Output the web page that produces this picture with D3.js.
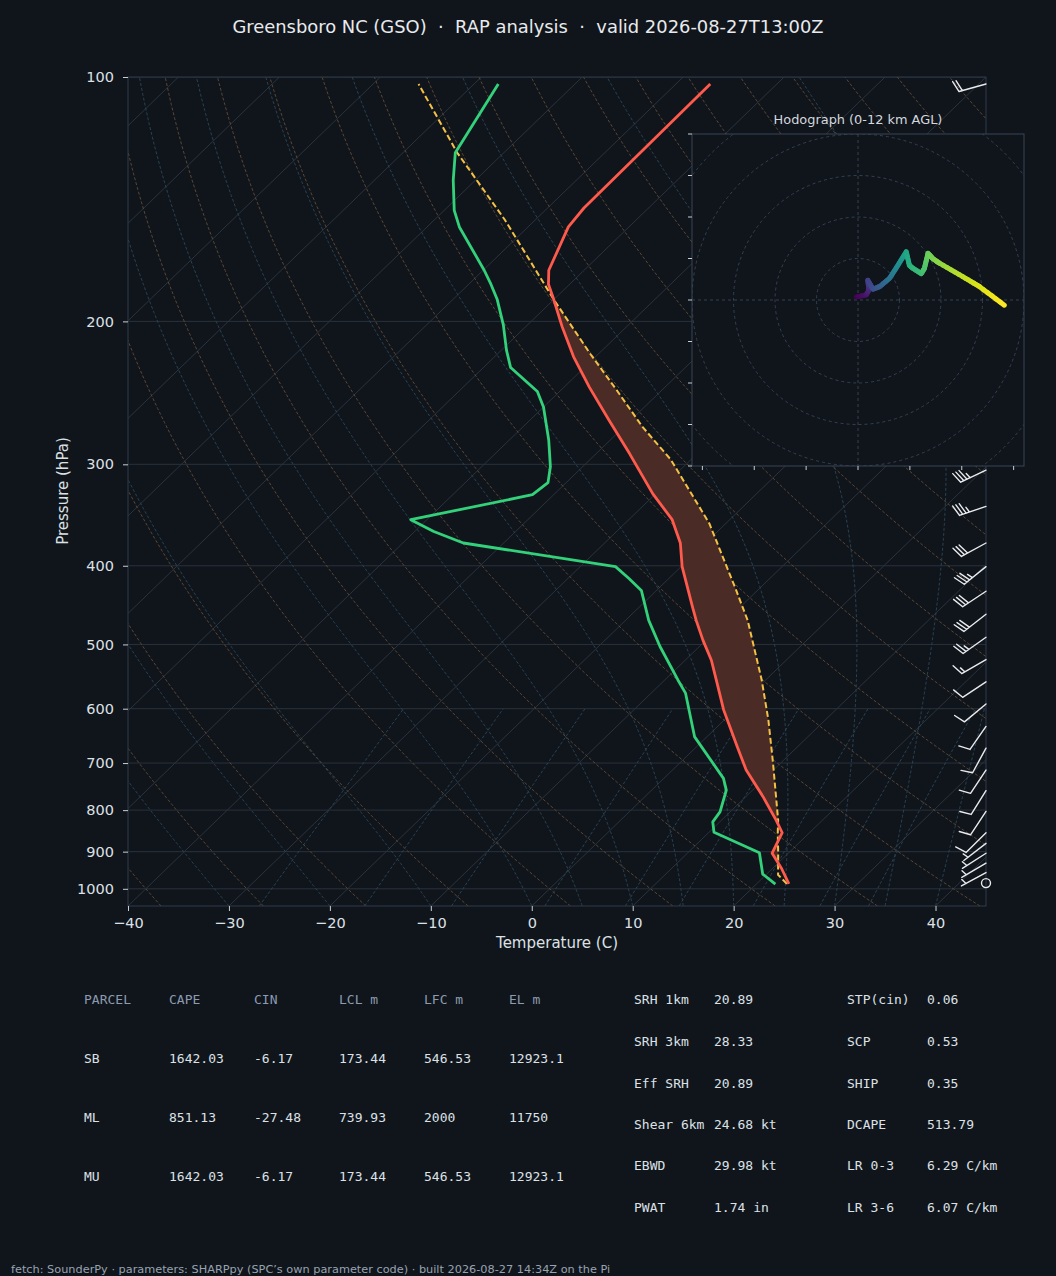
<!DOCTYPE html>
<html>
<head>
<meta charset="utf-8">
<script src="https://cdn.jsdelivr.net/npm/d3@7"></script>
<style>
  html, body { margin: 0; padding: 0; background: #10151c; }
  svg { display: block; }
  text { white-space: pre; }
</style>
</head>
<body>
<svg id="skewt" width="1056" height="1276"></svg>
<script>
// ---- sounding (hPa, degC) ----
var tempP = [986, 944, 904, 853, 823, 770, 714, 668, 602, 553, 523, 494, 467, 449, 401, 375, 351, 326, 291, 265, 241, 221, 203, 188, 180, 173, 153, 145, 102];
var tempT = [23.2, 20.9, 18.4, 17.3, 15.4, 11.7, 7.3, 4.0, -1.1, -4.9, -7.4, -10.3, -13.0, -14.8, -19.9, -22.5, -25.7, -30.3, -36.7, -42.1, -47.5, -52.2, -56.4, -60.0, -62.1, -63.5, -66.0, -66.4, -66.6];

var dewP = [987, 959, 903, 852, 827, 804, 756, 731, 650, 574, 553, 503, 467, 429, 415, 401, 375, 363, 351, 327, 316, 302, 280, 255, 244, 228, 217, 202, 188, 180, 173, 153, 146, 134, 124, 102];
var dewT = [21.9, 19.6, 17.1, 10.5, 9.3, 9.0, 7.4, 5.9, -1.2, -6.6, -8.7, -13.9, -17.7, -21.5, -23.9, -26.5, -44.0, -48.1, -51.6, -42.1, -41.8, -43.2, -46.1, -50.0, -52.2, -57.3, -59.5, -62.4, -65.6, -67.8, -69.9, -76.8, -79.0, -82.2, -84.8, -87.6];

var parcelP = [986, 961, 904, 854, 823, 701, 620, 553, 467, 429, 355, 323, 296, 270, 243, 219, 188, 150, 124, 102];
var parcelT = [23.0, 21.2, 19.0, 16.9, 15.6, 9.3, 4.4, -0.4, -7.9, -12.1, -21.6, -27.0, -32.0, -38.1, -44.5, -50.9, -60.0, -73.0, -84.6, -95.5];

// wind barbs (kt)
var barbP = [102, 305, 338, 375, 401, 430, 459, 490, 522, 556, 592, 631, 671, 714, 757, 803, 853, 879, 904, 930, 955, 984];
var barbU = [19.3, 31.6, 33.1, 26.3, 27.2, 25.0, 23.7, 20.4, 13.0, 8.3, 7.7, 5.7, 4.8, 5.5, 5.3, 5.5, 7.1, 4.0, 4.2, 4.3, 4.4, 0];
var barbV = [5.4, 15.1, 11.3, 14.4, 22.0, 16.6, 18.4, 14.4, 7.5, 5.5, 6.4, 8.2, 8.8, 8.3, 8.5, 8.3, 7.0, 3.1, 2.7, 2.5, 2.4, 0];

// hodograph (kt) and height (km AGL)
var hodoU = [-0.3, 1.6, 2.1, 1.9, 2.9, 4.2, 6.1, 7.7, 9.3, 9.9, 10.6, 12.2, 12.8, 13.5, 14.4, 15.7, 20.2, 23.4, 28.2];
var hodoV = [0.6, 1.0, 1.9, 3.8, 2.1, 2.6, 4.2, 6.7, 9.3, 6.7, 6.1, 5.1, 6.1, 9.0, 8.0, 7.1, 4.5, 2.6, -1.0];
var hodoZ = [0.0, 0.6, 1.2, 2.2, 2.8, 3.4, 4.4, 5.6, 7.0, 7.5, 7.8, 8.2, 8.6, 9.2, 9.5, 9.9, 10.8, 11.3, 12.0];

var pTicks = [100, 200, 300, 400, 500, 600, 700, 800, 900, 1000];
var xTicks = [-40, -30, -20, -10, 0, 10, 20, 30, 40];

// parcel table
var parcelNames = ['SB', 'ML', 'MU'];
var parcelCape = [1642.03, 851.13, 1642.03];
var parcelCin = [-6.17, -27.48, -6.17];
var parcelLcl = [173.44, 739.93, 173.44];
var parcelLfc = [546.53, 2000, 546.53];
var parcelEl = [12923.1, 11750, 12923.1];

var kinLabels = ['SRH 1km', 'SRH 3km', 'Eff SRH', 'Shear 6km', 'EBWD', 'PWAT'];
var kinValues = ['20.89', '28.33', '20.89', '24.68 kt', '29.98 kt', '1.74 in'];
var idxLabels = ['STP(cin)', 'SCP', 'SHIP', 'DCAPE', 'LR 0-3', 'LR 3-6'];
var idxValues = ['0.06', '0.53', '0.35', '513.79', '6.29 C/km', '6.07 C/km'];

var svg = d3.select('#skewt'),
    width = +svg.attr('width'),
    height = +svg.attr('height');

var bg = '#10151c',
    fg = '#dde1e6',
    sans = 'DejaVu Sans, sans-serif',
    mono = 'DejaVu Sans Mono, monospace';

svg.append('rect').attr('width', width).attr('height', height).attr('fill', bg);

var plot = {left: 128, right: 986, top: 77, bottom: 906};

var y = d3.scaleLog().domain([1050, 100]).range([plot.bottom, plot.top]);
var x = d3.scaleLinear().domain([-40, 45]).range([plot.left, plot.right]);
// 45 degree skew in axes units
var skew = (plot.right - plot.left) / (plot.bottom - plot.top);
function sx(t, p) { return x(t) + (plot.bottom - y(p)) * skew; }

var line = d3.line().x(d => sx(d[1], d[0])).y(d => y(d[0]));

svg.append('defs').append('clipPath').attr('id', 'plotclip')
  .append('rect')
  .attr('x', plot.left).attr('y', plot.top)
  .attr('width', plot.right - plot.left).attr('height', plot.bottom - plot.top);

var g = svg.append('g').attr('clip-path', 'url(#plotclip)');

// horizontal grid
g.selectAll('.hgrid').data(pTicks).enter().append('line')
  .attr('x1', plot.left).attr('x2', plot.right)
  .attr('y1', d => y(d)).attr('y2', d => y(d))
  .attr('stroke', '#28313c').attr('stroke-width', 1);

// isotherms
g.selectAll('.iso').data(d3.range(-160, 50, 10)).enter().append('line')
  .attr('x1', d => sx(d, 1050)).attr('y1', y(1050))
  .attr('x2', d => sx(d, 100)).attr('y2', y(100))
  .attr('stroke', '#2b333d').attr('stroke-width', 1);

// dry adiabats
var logLevels = d3.range(0, 61).map(i => 1050 * Math.pow(100 / 1050, i / 60));
var dry = d3.range(-40, 250, 10).map(t0 =>
  logLevels.map(p => [p, (t0 + 273.15) * Math.pow(p / 1000, 0.28571) - 273.15]));
g.selectAll('.dry').data(dry).enter().append('path')
  .attr('d', line).attr('fill', 'none')
  .attr('stroke', '#624c36').attr('stroke-width', 0.9).attr('stroke-dasharray', '3,2');

// moist adiabats, referenced to the bottom of the plot
function moistGrad(p, tK) {
  var tc = tK - 273.15;
  var es = 6.112 * Math.exp(17.67 * tc / (tc + 243.5));
  var rs = 0.622 * es / (p - es);
  var num = 287.04 * tK + 2.501e6 * rs;
  var den = 1005.7 + 2.501e6 * 2.501e6 * rs * 0.622 / (287.04 * tK * tK);
  return num / den / p;
}
var moistStarts = [-40, -30, -20, -10, 0, 5, 10, 15, 20, 25, 30, 35, 40, 45];
var moist = moistStarts.map(t0 => {
  var pts = [], p = 1050, t = t0 + 273.15, dp = -5;
  pts.push([p, t - 273.15]);
  while (p > 100) {
    var k1 = moistGrad(p, t),
        k2 = moistGrad(p + dp / 2, t + dp / 2 * k1),
        k3 = moistGrad(p + dp / 2, t + dp / 2 * k2),
        k4 = moistGrad(p + dp, t + dp * k3);
    t += dp / 6 * (k1 + 2 * k2 + 2 * k3 + k4);
    p += dp;
    pts.push([p, t - 273.15]);
  }
  return pts;
});
g.selectAll('.moist').data(moist).enter().append('path')
  .attr('d', line).attr('fill', 'none')
  .attr('stroke', '#2b4656').attr('stroke-width', 0.9).attr('stroke-dasharray', '3,2');

// mixing ratio lines
var mixRatios = [0.0004, 0.001, 0.002, 0.004, 0.007, 0.01, 0.016, 0.024, 0.032];
var mixLevels = d3.range(0, 21).map(i => 1050 - i * 22.5);
var mix = mixRatios.map(w => mixLevels.map(p => {
  var e = w * p / (0.622 + w), l = Math.log(e / 6.112);
  return [p, 243.5 * l / (17.67 - l)];
}));
g.selectAll('.mix').data(mix).enter().append('path')
  .attr('d', line).attr('fill', 'none')
  .attr('stroke', '#2b4656').attr('stroke-width', 0.9).attr('stroke-dasharray', '3,2');

// CAPE shading between parcel and environment
function interpAt(ps, ts, p) {
  for (var i = 0; i < ps.length - 1; i++) {
    if (p <= ps[i] && p >= ps[i + 1]) {
      var f = (Math.log(p) - Math.log(ps[i])) / (Math.log(ps[i + 1]) - Math.log(ps[i]));
      return ts[i] + f * (ts[i + 1] - ts[i]);
    }
  }
  return NaN;
}
var capeRows = d3.range(0, 801).map(i => {
  var p = 986 * Math.pow(102 / 986, i / 800);
  return {p: p, te: interpAt(tempP, tempT, p), tp: interpAt(parcelP, parcelT, p)};
});
var capeArea = d3.area()
  .defined(d => d.tp > d.te)
  .x0(d => sx(d.te, d.p)).x1(d => sx(d.tp, d.p))
  .y(d => y(d.p));
g.append('path').datum(capeRows).attr('d', capeArea).attr('fill', '#4a2b25');

// profiles
g.append('path').datum(parcelP.map((p, i) => [p, parcelT[i]]))
  .attr('d', line).attr('fill', 'none')
  .attr('stroke', '#f4c145').attr('stroke-width', 2).attr('stroke-dasharray', '6,3');
g.append('path').datum(tempP.map((p, i) => [p, tempT[i]]))
  .attr('d', line).attr('fill', 'none')
  .attr('stroke', '#ff5a4c').attr('stroke-width', 2.8).attr('stroke-linejoin', 'round');
g.append('path').datum(dewP.map((p, i) => [p, dewT[i]]))
  .attr('d', line).attr('fill', 'none')
  .attr('stroke', '#33d17a').attr('stroke-width', 2.8).attr('stroke-linejoin', 'round');

// spines
svg.append('rect')
  .attr('x', plot.left).attr('y', plot.top)
  .attr('width', plot.right - plot.left).attr('height', plot.bottom - plot.top)
  .attr('fill', 'none').attr('stroke', '#2f3a48').attr('stroke-width', 1);

// wind barbs along the right edge
var bL = 28, bH = 0.4 * bL, bW = 0.25 * bL, bS = 0.125 * bL;
var barbs = svg.append('g').attr('stroke', '#e8eaed').attr('stroke-width', 1.4)
  .attr('fill', 'none').attr('stroke-linecap', 'round');

barbP.forEach((p, i) => {
  var bx = plot.right, by = y(p);
  var u = barbU[i], v = barbV[i];
  var spd = Math.sqrt(u * u + v * v);
  if (spd < 2.5) {
    barbs.append('circle').attr('cx', bx).attr('cy', by).attr('r', 4.5);
    return;
  }
  var hx = -u / spd, hy = v / spd;   // shaft points where the wind comes from
  var px = -hy, py = hx;             // feather side
  var r = Math.round(spd / 5) * 5;
  var n10 = Math.floor(r / 10), half = (r % 10) >= 5;
  var path = d3.path();
  path.moveTo(bx, by);
  path.lineTo(bx + hx * bL, by + hy * bL);
  var off = bL;
  for (var k = 0; k < n10; k++) {
    var ax = bx + hx * off, ay = by + hy * off;
    path.moveTo(ax, ay);
    path.lineTo(ax + px * bH + hx * bW / 2, ay + py * bH + hy * bW / 2);
    off -= bS;
  }
  if (half) {
    if (n10 === 0) off -= 1.5 * bS;
    var hx0 = bx + hx * off, hy0 = by + hy * off;
    path.moveTo(hx0, hy0);
    path.lineTo(hx0 + px * bH / 2 + hx * bW / 4, hy0 + py * bH / 2 + hy * bW / 4);
  }
  barbs.append('path').attr('d', path.toString());
});

// axes
var yAxis = svg.append('g').attr('transform', 'translate(' + plot.left + ',0)')
  .call(d3.axisLeft(y).tickValues(pTicks).tickFormat(d3.format('d')).tickSize(5).tickPadding(9));
var xAxis = svg.append('g').attr('transform', 'translate(0,' + plot.bottom + ')')
  .call(d3.axisBottom(x).tickValues(xTicks)
    .tickFormat(d => d < 0 ? '\u2212' + Math.abs(d) : String(d)).tickSize(5).tickPadding(7));
[yAxis, xAxis].forEach(a => {
  a.select('.domain').remove();
  a.selectAll('line').attr('stroke', '#c9ced5');
  a.selectAll('text').attr('fill', fg).style('font-family', sans).style('font-size', '14.5px');
});

svg.append('text')
  .attr('transform', 'translate(68,491) rotate(-90)')
  .attr('text-anchor', 'middle')
  .attr('fill', fg).style('font-family', sans).style('font-size', '15px')
  .text('Pressure (hPa)');
svg.append('text')
  .attr('x', 557).attr('y', 948).attr('text-anchor', 'middle')
  .attr('fill', fg).style('font-family', sans).style('font-size', '15px')
  .text('Temperature (C)');

// title
svg.append('text')
  .attr('x', 528).attr('y', 33).attr('text-anchor', 'middle')
  .attr('fill', '#e8eaed').style('font-family', sans).style('font-size', '17.9px')
  .text('Greensboro NC (GSO)  \u00b7  RAP analysis  \u00b7  valid 2026-08-27T13:00Z');

// ---- hodograph inset ----
var hb = {left: 692, right: 1024, top: 134, bottom: 466};
var hxs = d3.scaleLinear().domain([-32, 32]).range([hb.left, hb.right]);
var hys = d3.scaleLinear().domain([-32, 32]).range([hb.bottom, hb.top]);

svg.select('defs').append('clipPath').attr('id', 'hodoclip')
  .append('rect')
  .attr('x', hb.left).attr('y', hb.top)
  .attr('width', hb.right - hb.left).attr('height', hb.bottom - hb.top);

var hodo = svg.append('g');
hodo.append('rect')
  .attr('x', hb.left).attr('y', hb.top)
  .attr('width', hb.right - hb.left).attr('height', hb.bottom - hb.top)
  .attr('fill', bg);

var hg = hodo.append('g').attr('clip-path', 'url(#hodoclip)');
hg.selectAll('.ring').data([8, 16, 24, 32, 40]).enter().append('circle')
  .attr('cx', hxs(0)).attr('cy', hys(0))
  .attr('r', d => hxs(d) - hxs(0))
  .attr('fill', 'none').attr('stroke', '#344050').attr('stroke-width', 1)
  .attr('stroke-dasharray', '3,3');
hg.append('line')
  .attr('x1', hb.left).attr('x2', hb.right).attr('y1', hys(0)).attr('y2', hys(0))
  .attr('stroke', '#344050').attr('stroke-dasharray', '3,3');
hg.append('line')
  .attr('y1', hb.top).attr('y2', hb.bottom).attr('x1', hxs(0)).attr('x2', hxs(0))
  .attr('stroke', '#344050').attr('stroke-dasharray', '3,3');

// trace coloured by height
var segs = [];
for (var i = 0; i < hodoU.length - 1; i++) {
  for (var s = 0; s < 6; s++) {
    var f0 = s / 6, f1 = (s + 1) / 6;
    segs.push({
      u0: hodoU[i] + f0 * (hodoU[i + 1] - hodoU[i]), v0: hodoV[i] + f0 * (hodoV[i + 1] - hodoV[i]),
      u1: hodoU[i] + f1 * (hodoU[i + 1] - hodoU[i]), v1: hodoV[i] + f1 * (hodoV[i + 1] - hodoV[i]),
      z: hodoZ[i] + (f0 + f1) / 2 * (hodoZ[i + 1] - hodoZ[i])
    });
  }
}
hg.selectAll('.hseg').data(segs).enter().append('line')
  .attr('x1', d => hxs(d.u0)).attr('y1', d => hys(d.v0))
  .attr('x2', d => hxs(d.u1)).attr('y2', d => hys(d.v1))
  .attr('stroke', d => d3.interpolateViridis(d.z / 12))
  .attr('stroke-width', 5).attr('stroke-linecap', 'round');

hodo.append('rect')
  .attr('x', hb.left).attr('y', hb.top)
  .attr('width', hb.right - hb.left).attr('height', hb.bottom - hb.top)
  .attr('fill', 'none').attr('stroke', '#384554').attr('stroke-width', 1);

hodo.selectAll('.hyt').data(d3.range(-32, 33, 8)).enter().append('line')
  .attr('x1', hb.left - 4).attr('x2', hb.left)
  .attr('y1', d => hys(d)).attr('y2', d => hys(d))
  .attr('stroke', '#c9ced5');
hodo.selectAll('.hxt').data(d3.range(-30, 31, 10)).enter().append('line')
  .attr('y1', hb.bottom).attr('y2', hb.bottom + 4)
  .attr('x1', d => hxs(d)).attr('x2', d => hxs(d))
  .attr('stroke', '#c9ced5');

hodo.append('text')
  .attr('x', (hb.left + hb.right) / 2).attr('y', 124).attr('text-anchor', 'middle')
  .attr('fill', '#d4d8de').style('font-family', sans).style('font-size', '12.9px')
  .text('Hodograph (0-12 km AGL)');

// ---- parameter tables ----
var head = '#8c9bb0';
var colX = [84, 169, 254, 339, 424, 509];
var headers = ['PARCEL', 'CAPE', 'CIN', 'LCL m', 'LFC m', 'EL m'];
var tbl = svg.append('g').style('font-family', mono).style('font-size', '13px');
headers.forEach((h, j) => {
  tbl.append('text').attr('x', colX[j]).attr('y', 1004).attr('fill', head).text(h);
});
parcelNames.forEach((n, i) => {
  var row = [n, parcelCape[i], parcelCin[i], parcelLcl[i], parcelLfc[i], parcelEl[i]];
  row.forEach((v, j) => {
    tbl.append('text').attr('x', colX[j]).attr('y', 1063 + i * 59).attr('fill', fg).text(String(v));
  });
});

var rowY = [1004, 1046, 1088, 1129, 1170, 1212];
kinLabels.forEach((l, i) => {
  tbl.append('text').attr('x', 634).attr('y', rowY[i]).attr('fill', fg).text(l);
  tbl.append('text').attr('x', 714).attr('y', rowY[i]).attr('fill', fg).text(kinValues[i]);
  tbl.append('text').attr('x', 847).attr('y', rowY[i]).attr('fill', fg).text(idxLabels[i]);
  tbl.append('text').attr('x', 927).attr('y', rowY[i]).attr('fill', fg).text(idxValues[i]);
});

// footer
svg.append('text')
  .attr('x', 11).attr('y', 1273)
  .attr('fill', '#98a3b0').style('font-family', sans).style('font-size', '11.3px')
  .text('fetch: SounderPy \u00b7 parameters: SHARPpy (SPC\u2019s own parameter code) \u00b7 built 2026-08-27 14:34Z on the Pi');
</script>
</body>
</html>
